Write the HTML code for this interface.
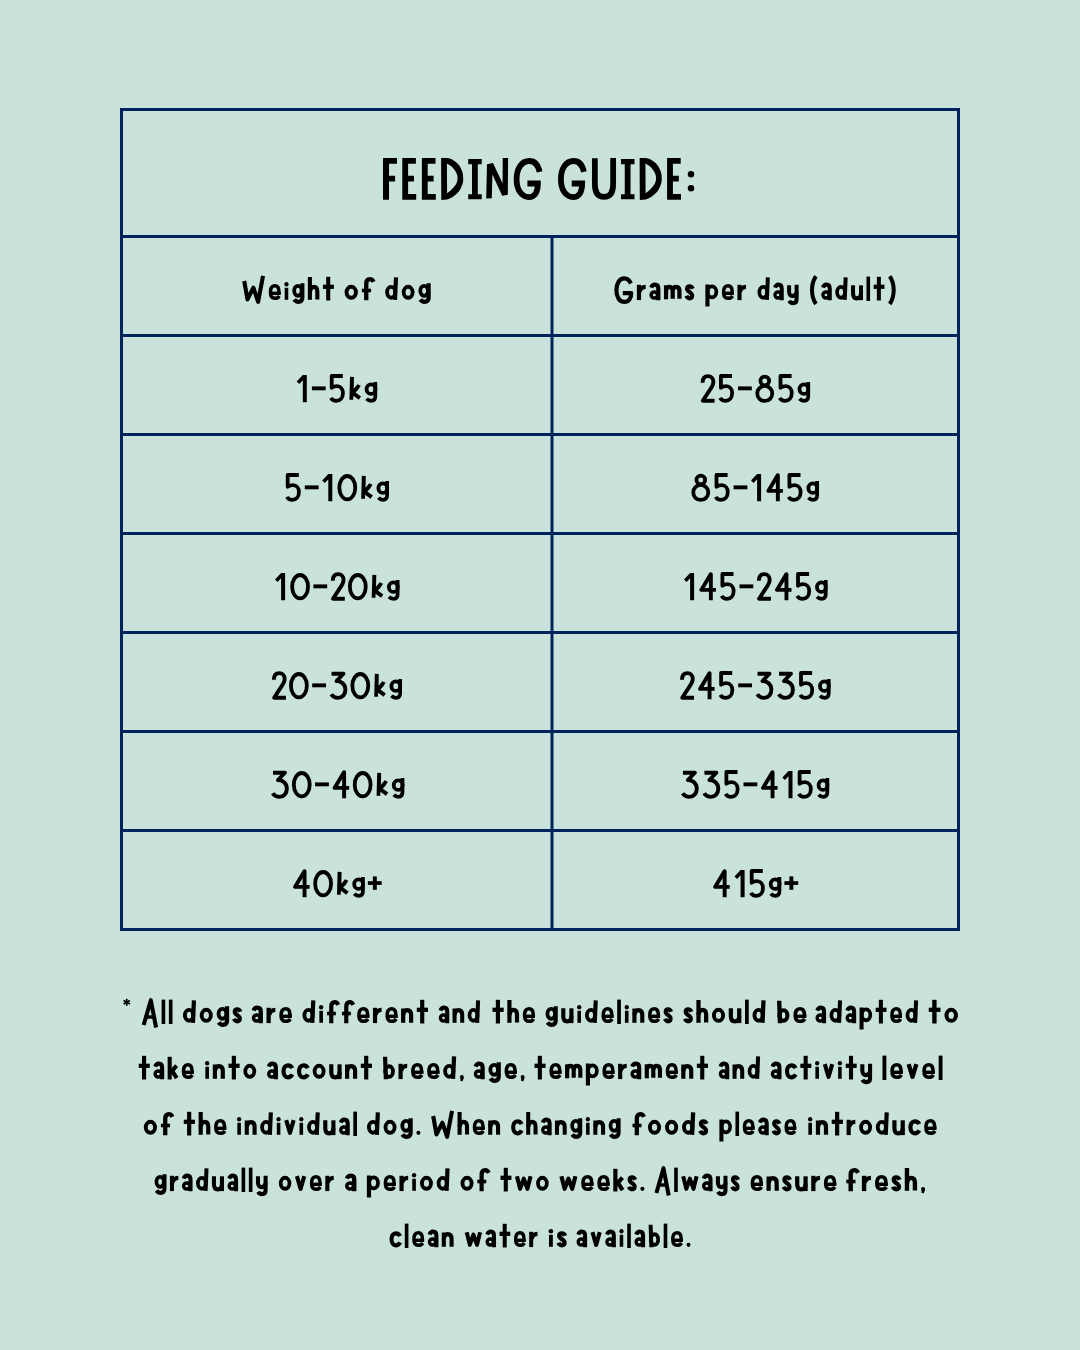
<!DOCTYPE html>
<html>
<head>
<meta charset="utf-8">
<title>Feeding Guide</title>
<style>
html,body{margin:0;padding:0;}
body{width:1080px;height:1350px;background:#cae2dc;overflow:hidden;font-family:"Liberation Sans",sans-serif;}
svg{display:block;position:absolute;left:0;top:0;}
.ln{fill:#00235b;}
text{font-family:"Liberation Sans",sans-serif;fill:#000;}
.sem,.sem *{position:absolute;margin:0;padding:0;border:0;color:transparent;background:none;font-family:"Liberation Sans",sans-serif;font-weight:700;font-size:26px;line-height:56px;white-space:nowrap;}
.sem{left:0;top:0;width:1080px;height:1350px;}
.sem p{white-space:normal;text-align:center;font-size:26px;}
.sem table,.sem tbody,.sem tr{left:0;top:0;display:block;}
.sem th,.sem td{display:block;line-height:32px;}
.sem h1{line-height:52px;}
.b{font-weight:700;}
</style>
</head>
<body>
<svg width="1080" height="1350" viewBox="0 0 1080 1350">
<defs>
<g id="g0"><ellipse cx="9.9" cy="-13.6" rx="7.95" ry="11.7" fill="none" stroke="#000" stroke-width="3.8"/></g>
<g id="g1"><path d="M6.1 -27.3 H10.1 V0 H6.1 V-22.1 L2.6 -18.3 L0 -20.9 Z" fill="#000"/></g>
<g id="gm"><rect x="0" y="-15.9" width="13.8" height="3.9" fill="#000"/></g>
<g id="g2"><path d="M1.95 -19.5 C1.95 -23.8 4.1 -26.15 7.4 -26.15 C10.7 -26.15 12.75 -23.7 12.75 -20.5 C12.75 -17.3 11.1 -14.8 9.1 -12.2 L2.2 -1.6 L14 -1.6" fill="none" stroke="#000" stroke-width="3.9" stroke-linejoin="round"/></g>
<g id="g3"><path d="M1.94 -25.55 L13.9 -25.55 L6.9 -18.3 C11.5 -18.6 15.8 -15 15.8 -9.6 C15.8 -4.8 12.5 -1.45 8.4 -1.45 C5.4 -1.45 3 -2.8 1.65 -5" fill="none" stroke="#000" stroke-width="3.9" stroke-linejoin="round"/></g>
<g id="g4"><path d="M11.65 0 L11.65 -26.2 L2.1 -10.4 L16.7 -10.4" fill="none" stroke="#000" stroke-width="3.9" stroke-linejoin="round"/></g>
<g id="g5"><path d="M13.5 -26.3 L2.4 -26.3 L2.4 -14.5 C4 -15.6 5.8 -16.2 7.6 -16.2 C11.3 -16.2 13.65 -13.2 13.65 -9.2 C13.65 -4.6 10.8 -1.45 7 -1.45 C4.5 -1.45 2.6 -2.6 1.6 -4.4" fill="none" stroke="#000" stroke-width="3.8" stroke-linejoin="round"/></g>
<g id="g8"><circle cx="9.4" cy="-21.3" r="4.35" fill="none" stroke="#000" stroke-width="3.75"/><circle cx="9.35" cy="-8.8" r="7.5" fill="none" stroke="#000" stroke-width="3.75"/></g>
<g id="gk"><path d="M0.64 -25.58 L4.57 -25.26 L4.36 -13.6 L8.03 -18.02 L11.34 -16.45 Q9.2 -12.2 6.15 -9.83 L11.66 -5.74 L9.29 -2.59 L3.88 -6.45 L3.78 -2.44 L0 -2.6 Z" fill="#000"/></g>
<g id="gg"><ellipse cx="6.3" cy="-13.14" rx="4.4" ry="4.75" fill="none" stroke="#000" stroke-width="3.8"/><path d="M10.63 -20.2 L10.63 -6 C10.63 -3 8.9 -1.5 6.5 -1.5 C4.6 -1.5 3 -2.3 1.9 -3.5" fill="none" stroke="#000" stroke-width="3.75" stroke-linecap="butt"/></g>
<g id="gp"><rect x="0" y="-16.1" width="13.8" height="3.7" fill="#000"/><rect x="5" y="-20.9" width="3.9" height="13.4" fill="#000"/></g>
<g id="tF" fill="#000"><path d="M383 158.1 H397 V163.8 H389 V175.7 H395.1 V181.5 H389 V199.75 H383 Z"/></g>
<g id="tE" fill="#000"><path d="M402.3 158.1 H415.9 V163.8 H408.1 V175.7 H414 V181.5 H408.1 V194 H416.2 V199.75 H402.3 Z"/></g>
<g id="tD" fill="#000"><path fill-rule="evenodd" d="M441.1 158.1 L447.2 158.1 C451 158.6 453 160 455.5 161.7 C458.5 164 460.3 166.5 461.3 169.2 C462.6 172 463.2 174.6 463.2 177.5 L463.2 180 C463.2 182.6 462.6 184 461.3 187.2 C460 190 458.5 192.5 455.5 194.8 C453 196.8 451 198.5 447.2 199.4 L441.3 200 Z M446.9 163.4 C450 165 451.6 166.3 453 167.9 C456 171 457.6 174.5 457.6 178 C457.6 182 456 185 453 188 C451.6 189.6 450 191.3 447.1 193.3 Z"/></g>
<g id="tI" fill="#000"><path d="M468.25 159 H481.75 V164.3 H477.8 V194.2 H481.75 V199.3 H468.25 V194.2 H472 V164.3 H468.25 Z"/></g>
<g id="tN" fill="#000"><path d="M487 164.3 L493 162.9 L502.6 183.6 L502.7 158.1 L508.1 158.1 L507.8 194.8 L502.2 195.8 L492.4 174.6 L491.8 198.2 L486.2 198.5 Z"/></g>
<g id="tG" fill="#000"><path fill="none" stroke="#000" stroke-width="5.8" stroke-linejoin="miter" d="M539.6 171.8 C538 164.8 534.3 161 529.4 161 C521.6 161 516.6 168.6 516.6 179.3 C516.6 190 521.6 197.1 528.9 197.1 C534.6 197.1 537.85 192.3 537.85 183.5 L527.4 183.5"/></g>
<g id="tU" fill="#000"><path fill="none" stroke="#000" stroke-width="5.75" d="M594.85 158.3 L594.85 184 C594.85 192.6 598 196.9 604 196.9 C610 196.9 613.15 192.6 613.15 184 L613.15 158.1"/></g>
<g id="tC" fill="#000"><circle cx="691" cy="174.3" r="3.25"/><circle cx="691" cy="188.3" r="3.25"/></g>
<g id="h28"><path d="M6.2 -23.5 C0.6 -16 0.6 -3.5 6.2 4.3" fill="none" stroke="#000" stroke-width="4.25" stroke-linejoin="round" stroke-linecap="butt"/></g>
<g id="h29"><path d="M1.8 -23.5 C7.4 -16 7.4 -3.5 1.8 4.3" fill="none" stroke="#000" stroke-width="4.25" stroke-linejoin="round" stroke-linecap="butt"/></g>
<g id="h2a"><path d="M3.75 -24 V-17" fill="none" stroke="#000" stroke-width="1.7" stroke-linejoin="round" stroke-linecap="butt"/><path d="M0.6 -22.3 L6.9 -18.7" fill="none" stroke="#000" stroke-width="1.7" stroke-linejoin="round" stroke-linecap="butt"/><path d="M6.9 -22.3 L0.6 -18.7" fill="none" stroke="#000" stroke-width="1.7" stroke-linejoin="round" stroke-linecap="butt"/></g>
<g id="h2c"><circle cx="2.1" cy="-1.9" r="2" fill="#000"/><path d="M2.8 -1.5 L1.5 2.2" fill="none" stroke="#000" stroke-width="2.6" stroke-linejoin="round" stroke-linecap="butt"/></g>
<g id="h2e"><circle cx="2.1" cy="-2" r="2.1" fill="#000"/></g>
<g id="h41"><path d="M2 2.2 L9.5 -22.5 L15 4.7" fill="none" stroke="#000" stroke-width="4.25" stroke-linejoin="round" stroke-linecap="butt"/><path d="M5.5 -5.8 H13.3" fill="none" stroke="#000" stroke-width="3.4" stroke-linejoin="round" stroke-linecap="butt"/></g>
<g id="h47"><path d="M16.6 -16.3 C15 -19.8 12.8 -21.3 10 -21.3 C5 -21.3 2 -16 2 -9.5 C2 -3 5 2.2 10 2.2 C14.5 2.2 17 -1.5 17 -6.6 H8.5" fill="none" stroke="#000" stroke-width="4.25" stroke-linejoin="round" stroke-linecap="butt"/></g>
<g id="h57"><path d="M2 -18.8 L5.4 -0.5 L11.5 -12 L16.4 2 L21.5 -24" fill="none" stroke="#000" stroke-width="4.25" stroke-linejoin="round" stroke-linecap="butt"/></g>
<g id="h61"><path d="M1.9 -12.2 C2.5 -14.3 4 -15.2 5.6 -15.2 C7.9 -15.2 9 -13.5 9 -11 V0.5" fill="none" stroke="#000" stroke-width="4.25" stroke-linejoin="round" stroke-linecap="butt"/><ellipse cx="5" cy="-4.8" rx="3.25" ry="3.05" fill="none" stroke="#000" stroke-width="3.5"/></g>
<g id="h62"><ellipse cx="6.2" cy="-7.3" rx="3.85" ry="5.3" fill="none" stroke="#000" stroke-width="3.9"/><path d="M2.1 -22 L2.9 0.5" fill="none" stroke="#000" stroke-width="4.2" stroke-linejoin="round" stroke-linecap="butt"/></g>
<g id="h63"><path d="M10.9 -10.6 C10 -12.6 8.5 -13.5 6.5 -13.5 C3.6 -13.5 2 -11 2 -7.5 C2 -4 3.6 -1.5 6.5 -1.5 C8.5 -1.5 10 -2.4 10.9 -4.4" fill="none" stroke="#000" stroke-width="4.25" stroke-linejoin="round" stroke-linecap="butt"/></g>
<g id="h64"><ellipse cx="6.1" cy="-7.5" rx="4.15" ry="5.4" fill="none" stroke="#000" stroke-width="3.9"/><path d="M11 -22.5 L10 0" fill="none" stroke="#000" stroke-width="4.25" stroke-linejoin="round" stroke-linecap="butt"/></g>
<g id="h65"><path d="M10.7 -5.4 V-8.2 C10.7 -12.3 9.3 -14 6.3 -14 C3.1 -14 1.9 -11.6 1.9 -7.5 C1.9 -3.6 3.4 -1.5 6.4 -1.5 C8.5 -1.5 10 -2.3 11.1 -3.9" fill="none" stroke="#000" stroke-width="3.6" stroke-linejoin="round" stroke-linecap="butt"/><path d="M1.9 -6.5 H12.5" fill="none" stroke="#000" stroke-width="3.4" stroke-linejoin="round" stroke-linecap="butt"/></g>
<g id="h66"><path d="M4.3 0.5 V-16 C4.3 -19.5 6 -20.6 8 -20.6 C9.5 -20.6 10.6 -19.8 11.4 -18" fill="none" stroke="#000" stroke-width="4.25" stroke-linejoin="round" stroke-linecap="butt"/><path d="M0 -9.3 H9" fill="none" stroke="#000" stroke-width="3.6" stroke-linejoin="round" stroke-linecap="butt"/></g>
<g id="h67"><ellipse cx="5.9" cy="-9" rx="3.9" ry="4.9" fill="none" stroke="#000" stroke-width="3.9"/><path d="M10.5 -16.5 V-2 C10.5 1 8.5 2 6.3 2 C4.5 2 3 1.2 2 -0.2" fill="none" stroke="#000" stroke-width="4.25" stroke-linejoin="round" stroke-linecap="butt"/></g>
<g id="h68"><path d="M2 -22.8 V0" fill="none" stroke="#000" stroke-width="4.25" stroke-linejoin="round" stroke-linecap="butt"/><path d="M2 -8 C2.6 -11.5 4.2 -13 6 -13 C8.4 -13 9.7 -11.2 9.7 -8.5 V-0.3" fill="none" stroke="#000" stroke-width="4.25" stroke-linejoin="round" stroke-linecap="butt"/></g>
<g id="h69"><path d="M2.2 -12 V0" fill="none" stroke="#000" stroke-width="3.7" stroke-linejoin="round" stroke-linecap="butt"/><circle cx="2.2" cy="-15.6" r="2.2" fill="#000"/></g>
<g id="h6b"><path d="M2 -22 V0.7" fill="none" stroke="#000" stroke-width="4.25" stroke-linejoin="round" stroke-linecap="butt"/><path d="M3 -6.3 L9.1 -13.2" fill="none" stroke="#000" stroke-width="4.25" stroke-linejoin="round" stroke-linecap="butt"/><path d="M4.4 -8 L9.3 -0.7" fill="none" stroke="#000" stroke-width="4.25" stroke-linejoin="round" stroke-linecap="butt"/></g>
<g id="h6c"><path d="M1.9 -23.2 V1.2" fill="none" stroke="#000" stroke-width="3.8" stroke-linejoin="round" stroke-linecap="butt"/></g>
<g id="h6d"><path d="M2 -14.5 V-0.5" fill="none" stroke="#000" stroke-width="4.25" stroke-linejoin="round" stroke-linecap="butt"/><path d="M2 -9 C2.4 -11.7 3.6 -13 5.3 -13 C7.5 -13 8.7 -11.5 8.7 -9 V-1" fill="none" stroke="#000" stroke-width="4.25" stroke-linejoin="round" stroke-linecap="butt"/><path d="M8.7 -9 C9.1 -11.7 10.4 -13 12.1 -13 C14.4 -13 15.5 -11.5 15.5 -9 V-1" fill="none" stroke="#000" stroke-width="4.25" stroke-linejoin="round" stroke-linecap="butt"/></g>
<g id="h6e"><path d="M1.9 -14.3 V0" fill="none" stroke="#000" stroke-width="4.25" stroke-linejoin="round" stroke-linecap="butt"/><path d="M1.9 -8 C2.5 -11.5 4.2 -12.7 6 -12.7 C8.6 -12.7 10 -10.8 10 -8 V0" fill="none" stroke="#000" stroke-width="4.25" stroke-linejoin="round" stroke-linecap="butt"/></g>
<g id="h6f"><ellipse cx="6.6" cy="-7.5" rx="4.6" ry="5.5" fill="none" stroke="#000" stroke-width="3.9"/></g>
<g id="h70"><ellipse cx="6.7" cy="-8" rx="4.5" ry="5.5" fill="none" stroke="#000" stroke-width="3.8"/><path d="M2 -15.3 V6.7" fill="none" stroke="#000" stroke-width="4.25" stroke-linejoin="round" stroke-linecap="butt"/></g>
<g id="h72"><path d="M2 -15 V0.3" fill="none" stroke="#000" stroke-width="4.25" stroke-linejoin="round" stroke-linecap="butt"/><path d="M2.6 -8 C3.4 -11.6 5.4 -12.9 8.7 -12.9" fill="none" stroke="#000" stroke-width="4.25" stroke-linejoin="round" stroke-linecap="butt"/></g>
<g id="h73"><path d="M7.6 -11 C6.9 -12.8 5.8 -13.5 4.5 -13.5 C2.9 -13.5 2 -12.4 2 -11 C2 -9.4 3.2 -8.5 4.6 -7.6 C6 -6.7 7 -5.8 7 -4.2 C7 -2.6 6 -1.5 4.4 -1.5 C3 -1.5 2 -2.3 1.3 -4" fill="none" stroke="#000" stroke-width="4.25" stroke-linejoin="round" stroke-linecap="butt"/></g>
<g id="h74"><path d="M5.5 -23 V0.7" fill="none" stroke="#000" stroke-width="4.25" stroke-linejoin="round" stroke-linecap="butt"/><path d="M0 -13 H11.4" fill="none" stroke="#000" stroke-width="4.25" stroke-linejoin="round" stroke-linecap="butt"/></g>
<g id="h75"><path d="M2 -14.5 V-6.5 C2 -3.3 3.5 -1.5 6 -1.5 C8.7 -1.5 10.4 -3.3 10.4 -6.5" fill="none" stroke="#000" stroke-width="4.25" stroke-linejoin="round" stroke-linecap="butt"/><path d="M10.4 -14.5 V0.3" fill="none" stroke="#000" stroke-width="4.25" stroke-linejoin="round" stroke-linecap="butt"/></g>
<g id="h76"><path d="M1.9 -14.6 L5.75 -2 L9.6 -14.6" fill="none" stroke="#000" stroke-width="4.25" stroke-linejoin="round" stroke-linecap="butt"/></g>
<g id="h77"><path d="M1.9 -14.6 L5.2 -2 L9 -12 L12.8 -2 L16.1 -14.6" fill="none" stroke="#000" stroke-width="4.25" stroke-linejoin="round" stroke-linecap="butt"/></g>
<g id="h79"><path d="M2 -14.5 V-8 C2 -5 3.6 -3.8 5.8 -3.8 C8 -3.8 10 -5 10 -8" fill="none" stroke="#000" stroke-width="4.25" stroke-linejoin="round" stroke-linecap="butt"/><path d="M10 -15 V-0.5 C10 2.5 8.3 3.3 6.2 3.3 C4.4 3.3 3 2.6 2.1 1" fill="none" stroke="#000" stroke-width="4.25" stroke-linejoin="round" stroke-linecap="butt"/></g>
</defs>
<!-- table grid -->
<rect class="ln" x="120" y="108" width="840" height="3"/>
<rect class="ln" x="120" y="928" width="840" height="3"/>
<rect class="ln" x="120" y="235" width="840" height="3"/>
<rect class="ln" x="120" y="334" width="840" height="3"/>
<rect class="ln" x="120" y="433" width="840" height="3"/>
<rect class="ln" x="120" y="532" width="840" height="3"/>
<rect class="ln" x="120" y="631" width="840" height="3"/>
<rect class="ln" x="120" y="730" width="840" height="3"/>
<rect class="ln" x="120" y="829" width="840" height="3"/>
<rect class="ln" x="120" y="108" width="3" height="823"/>
<rect class="ln" x="957" y="108" width="3" height="823"/>
<rect class="ln" x="550.5" y="235" width="3" height="696"/>
<!-- title -->
<use href="#tF" x="0.00" y="0"/>
<use href="#tE" x="0.00" y="0"/>
<use href="#tE" x="19.60" y="0"/>
<use href="#tD" x="0.00" y="0"/>
<use href="#tI" x="0.00" y="0"/>
<use href="#tN" x="0.00" y="0"/>
<use href="#tG" x="0.00" y="0"/>
<use href="#tG" x="44.30" y="0"/>
<use href="#tU" x="0.00" y="0"/>
<use href="#tI" x="152.75" y="0"/>
<use href="#tD" x="198.50" y="0"/>
<use href="#tE" x="264.80" y="0"/>
<use href="#tC" x="0.00" y="0"/>
<!-- header row -->
<g transform="translate(242.30 299.80) scale(0.9642 1)"><use href="#h57" x="0.00"/><use href="#h65" x="27.30"/><use href="#h69" x="43.60"/><use href="#h67" x="51.80"/><use href="#h68" x="68.10"/><use href="#h74" x="83.60"/></g>
<g transform="translate(344.50 299.80) scale(1.0211 1)"><use href="#h6f" x="0.00"/><use href="#h66" x="17.00"/></g>
<g transform="translate(385.20 299.80) scale(0.9806 1)"><use href="#h64" x="0.00"/><use href="#h6f" x="16.80"/><use href="#h67" x="33.80"/></g>
<g transform="translate(614.40 299.80) scale(0.9913 1)"><use href="#h47" x="0.00"/><use href="#h72" x="22.80"/><use href="#h61" x="35.30"/><use href="#h6d" x="50.10"/><use href="#h73" x="71.40"/></g>
<g transform="translate(705.50 299.80) scale(0.9689 1)"><use href="#h70" x="0.00"/><use href="#h65" x="16.80"/><use href="#h72" x="33.10"/></g>
<g transform="translate(757.50 299.80) scale(0.9404 1)"><use href="#h64" x="0.00"/><use href="#h61" x="16.80"/><use href="#h79" x="31.60"/></g>
<g transform="translate(810.10 299.80) scale(0.9458 1)"><use href="#h28" x="0.00"/><use href="#h61" x="11.80"/><use href="#h64" x="26.60"/><use href="#h75" x="43.40"/><use href="#h6c" x="59.60"/><use href="#h74" x="67.20"/><use href="#h29" x="82.40"/></g>
<!-- cells -->
<use href="#g1" x="296.70" y="402.30"/>
<use href="#gm" x="311.90" y="402.30"/>
<use href="#g5" x="329.30" y="402.30"/>
<use href="#gk" x="349.40" y="402.30"/>
<use href="#gg" x="364.70" y="402.30"/>
<use href="#g5" x="285.30" y="501.30"/>
<use href="#gm" x="304.80" y="501.30"/>
<use href="#g1" x="322.20" y="501.30"/>
<use href="#g0" x="337.40" y="501.30"/>
<use href="#gk" x="361.20" y="501.30"/>
<use href="#gg" x="376.50" y="501.30"/>
<use href="#g1" x="275.00" y="600.30"/>
<use href="#g0" x="290.20" y="600.30"/>
<use href="#gm" x="313.40" y="600.30"/>
<use href="#g2" x="330.80" y="600.30"/>
<use href="#g0" x="347.90" y="600.30"/>
<use href="#gk" x="371.70" y="600.30"/>
<use href="#gg" x="387.00" y="600.30"/>
<use href="#g2" x="271.90" y="699.30"/>
<use href="#g0" x="289.00" y="699.30"/>
<use href="#gm" x="312.20" y="699.30"/>
<use href="#g3" x="329.60" y="699.30"/>
<use href="#g0" x="350.40" y="699.30"/>
<use href="#gk" x="374.20" y="699.30"/>
<use href="#gg" x="389.50" y="699.30"/>
<use href="#g3" x="271.06" y="798.30"/>
<use href="#g0" x="291.86" y="798.30"/>
<use href="#gm" x="315.06" y="798.30"/>
<use href="#g4" x="332.46" y="798.30"/>
<use href="#g0" x="352.76" y="798.30"/>
<use href="#gk" x="376.56" y="798.30"/>
<use href="#gg" x="391.86" y="798.30"/>
<use href="#g4" x="292.90" y="897.30"/>
<use href="#g0" x="313.20" y="897.30"/>
<use href="#gk" x="337.00" y="897.30"/>
<use href="#gg" x="352.30" y="897.30"/>
<use href="#gp" x="367.90" y="897.30"/>
<use href="#g2" x="700.60" y="402.30"/>
<use href="#g5" x="718.50" y="402.30"/>
<use href="#gm" x="738.00" y="402.30"/>
<use href="#g8" x="755.40" y="402.30"/>
<use href="#g5" x="778.10" y="402.30"/>
<use href="#gg" x="797.60" y="402.30"/>
<use href="#g8" x="691.40" y="501.30"/>
<use href="#g5" x="714.10" y="501.30"/>
<use href="#gm" x="733.60" y="501.30"/>
<use href="#g1" x="751.00" y="501.30"/>
<use href="#g4" x="766.20" y="501.30"/>
<use href="#g5" x="787.00" y="501.30"/>
<use href="#gg" x="806.50" y="501.30"/>
<use href="#g1" x="684.00" y="600.30"/>
<use href="#g4" x="699.20" y="600.30"/>
<use href="#g5" x="720.00" y="600.30"/>
<use href="#gm" x="739.50" y="600.30"/>
<use href="#g2" x="756.90" y="600.30"/>
<use href="#g4" x="774.80" y="600.30"/>
<use href="#g5" x="795.60" y="600.30"/>
<use href="#gg" x="815.10" y="600.30"/>
<use href="#g2" x="680.00" y="699.30"/>
<use href="#g4" x="697.90" y="699.30"/>
<use href="#g5" x="718.70" y="699.30"/>
<use href="#gm" x="738.20" y="699.30"/>
<use href="#g3" x="755.60" y="699.30"/>
<use href="#g3" x="777.10" y="699.30"/>
<use href="#g5" x="798.60" y="699.30"/>
<use href="#gg" x="818.10" y="699.30"/>
<use href="#g3" x="681.00" y="798.30"/>
<use href="#g3" x="702.50" y="798.30"/>
<use href="#g5" x="724.00" y="798.30"/>
<use href="#gm" x="743.50" y="798.30"/>
<use href="#g4" x="760.90" y="798.30"/>
<use href="#g1" x="782.40" y="798.30"/>
<use href="#g5" x="797.20" y="798.30"/>
<use href="#gg" x="816.70" y="798.30"/>
<use href="#g4" x="713.00" y="897.30"/>
<use href="#g1" x="734.50" y="897.30"/>
<use href="#g5" x="749.30" y="897.30"/>
<use href="#gg" x="768.80" y="897.30"/>
<use href="#gp" x="784.40" y="897.30"/>
<!-- footnote -->
<g transform="translate(123.00 1022.80) scale(1.0000 1)"><use href="#h2a" x="0.00"/></g>
<g transform="translate(141.75 1022.80) scale(0.9550 1)"><use href="#h41" x="0.00"/><use href="#h6c" x="20.80"/><use href="#h6c" x="28.40"/></g>
<g transform="translate(183.00 1022.80) scale(0.9941 1)"><use href="#h64" x="0.00"/><use href="#h6f" x="16.80"/><use href="#h67" x="33.80"/><use href="#h73" x="50.10"/></g>
<g transform="translate(251.75 1022.80) scale(1.0050 1)"><use href="#h61" x="0.00"/><use href="#h72" x="14.80"/><use href="#h65" x="27.30"/></g>
<g transform="translate(302.50 1022.80) scale(0.9812 1)"><use href="#h64" x="0.00"/><use href="#h69" x="16.80"/><use href="#h66" x="25.00"/><use href="#h66" x="40.30"/><use href="#h65" x="55.60"/><use href="#h72" x="71.90"/><use href="#h65" x="84.40"/><use href="#h6e" x="100.70"/><use href="#h74" x="116.50"/></g>
<g transform="translate(438.75 1022.80) scale(0.9461 1)"><use href="#h61" x="0.00"/><use href="#h6e" x="14.80"/><use href="#h64" x="30.60"/></g>
<g transform="translate(492.50 1022.80) scale(0.9838 1)"><use href="#h74" x="0.00"/><use href="#h68" x="15.20"/><use href="#h65" x="30.70"/></g>
<g transform="translate(545.50 1022.80) scale(0.9717 1)"><use href="#h67" x="0.00"/><use href="#h75" x="16.30"/><use href="#h69" x="32.50"/><use href="#h64" x="40.70"/><use href="#h65" x="57.50"/><use href="#h6c" x="73.80"/><use href="#h69" x="81.40"/><use href="#h6e" x="89.60"/><use href="#h65" x="105.40"/><use href="#h73" x="121.70"/></g>
<g transform="translate(683.75 1022.80) scale(0.9957 1)"><use href="#h73" x="0.00"/><use href="#h68" x="12.80"/><use href="#h6f" x="28.30"/><use href="#h75" x="45.30"/><use href="#h6c" x="61.50"/><use href="#h64" x="69.10"/></g>
<g transform="translate(777.00 1022.80) scale(1.0336 1)"><use href="#h62" x="0.00"/><use href="#h65" x="15.80"/></g>
<g transform="translate(815.50 1022.80) scale(0.9517 1)"><use href="#h61" x="0.00"/><use href="#h64" x="14.80"/><use href="#h61" x="31.60"/><use href="#h70" x="46.40"/><use href="#h74" x="63.20"/><use href="#h65" x="78.40"/><use href="#h64" x="94.70"/></g>
<g transform="translate(928.75 1022.80) scale(1.0299 1)"><use href="#h74" x="0.00"/><use href="#h6f" x="15.20"/></g>
<g transform="translate(138.75 1078.80) scale(0.9666 1)"><use href="#h74" x="0.00"/><use href="#h61" x="15.20"/><use href="#h6b" x="30.00"/><use href="#h65" x="44.40"/></g>
<g transform="translate(205.00 1078.80) scale(0.9781 1)"><use href="#h69" x="0.00"/><use href="#h6e" x="8.20"/><use href="#h74" x="24.00"/><use href="#h6f" x="39.20"/></g>
<g transform="translate(267.00 1078.80) scale(0.9831 1)"><use href="#h61" x="0.00"/><use href="#h63" x="14.80"/><use href="#h63" x="30.60"/><use href="#h6f" x="46.40"/><use href="#h75" x="63.40"/><use href="#h6e" x="79.60"/><use href="#h74" x="95.40"/></g>
<g transform="translate(383.00 1078.80) scale(0.9884 1)"><use href="#h62" x="0.00"/><use href="#h72" x="15.80"/><use href="#h65" x="28.30"/><use href="#h65" x="44.60"/><use href="#h64" x="60.90"/><use href="#h2c" x="77.70"/></g>
<g transform="translate(473.75 1078.80) scale(0.9874 1)"><use href="#h61" x="0.00"/><use href="#h67" x="14.80"/><use href="#h65" x="31.10"/><use href="#h2c" x="47.40"/></g>
<g transform="translate(534.50 1078.80) scale(0.9747 1)"><use href="#h74" x="0.00"/><use href="#h65" x="15.20"/><use href="#h6d" x="31.50"/><use href="#h70" x="52.80"/><use href="#h65" x="69.60"/><use href="#h72" x="85.90"/><use href="#h61" x="98.40"/><use href="#h6d" x="113.20"/><use href="#h65" x="134.50"/><use href="#h6e" x="150.80"/><use href="#h74" x="166.60"/></g>
<g transform="translate(718.75 1078.80) scale(0.9461 1)"><use href="#h61" x="0.00"/><use href="#h6e" x="14.80"/><use href="#h64" x="30.60"/></g>
<g transform="translate(770.75 1078.80) scale(0.9670 1)"><use href="#h61" x="0.00"/><use href="#h63" x="14.80"/><use href="#h74" x="30.60"/><use href="#h69" x="45.80"/><use href="#h76" x="54.00"/><use href="#h69" x="69.30"/><use href="#h74" x="77.50"/><use href="#h79" x="92.70"/></g>
<g transform="translate(882.50 1078.80) scale(1.0118 1)"><use href="#h6c" x="0.00"/><use href="#h65" x="7.60"/><use href="#h76" x="23.90"/><use href="#h65" x="39.20"/><use href="#h6c" x="55.50"/></g>
<g transform="translate(143.75 1134.80) scale(1.0088 1)"><use href="#h6f" x="0.00"/><use href="#h66" x="17.00"/></g>
<g transform="translate(183.75 1134.80) scale(0.9838 1)"><use href="#h74" x="0.00"/><use href="#h68" x="15.20"/><use href="#h65" x="30.70"/></g>
<g transform="translate(237.00 1134.80) scale(0.9670 1)"><use href="#h69" x="0.00"/><use href="#h6e" x="8.20"/><use href="#h64" x="24.00"/><use href="#h69" x="40.80"/><use href="#h76" x="49.00"/><use href="#h69" x="64.30"/><use href="#h64" x="72.50"/><use href="#h75" x="89.30"/><use href="#h61" x="105.50"/><use href="#h6c" x="120.30"/></g>
<g transform="translate(367.00 1134.80) scale(0.9853 1)"><use href="#h64" x="0.00"/><use href="#h6f" x="16.80"/><use href="#h67" x="33.80"/><use href="#h2e" x="50.10"/></g>
<g transform="translate(431.25 1134.80) scale(0.9669 1)"><use href="#h57" x="0.00"/><use href="#h68" x="27.30"/><use href="#h65" x="42.80"/><use href="#h6e" x="59.10"/></g>
<g transform="translate(511.25 1134.80) scale(0.9525 1)"><use href="#h63" x="0.00"/><use href="#h68" x="15.80"/><use href="#h61" x="31.30"/><use href="#h6e" x="46.10"/><use href="#h67" x="61.90"/><use href="#h69" x="78.20"/><use href="#h6e" x="86.40"/><use href="#h67" x="102.20"/></g>
<g transform="translate(632.50 1134.80) scale(1.0053 1)"><use href="#h66" x="0.00"/><use href="#h6f" x="15.30"/><use href="#h6f" x="32.30"/><use href="#h64" x="49.30"/><use href="#h73" x="66.10"/></g>
<g transform="translate(719.50 1134.80) scale(0.9499 1)"><use href="#h70" x="0.00"/><use href="#h6c" x="16.80"/><use href="#h65" x="24.40"/><use href="#h61" x="40.70"/><use href="#h73" x="55.50"/><use href="#h65" x="68.30"/></g>
<g transform="translate(808.00 1134.80) scale(0.9877 1)"><use href="#h69" x="0.00"/><use href="#h6e" x="8.20"/><use href="#h74" x="24.00"/><use href="#h72" x="39.20"/><use href="#h6f" x="51.70"/><use href="#h64" x="68.70"/><use href="#h75" x="85.50"/><use href="#h63" x="101.70"/><use href="#h65" x="117.50"/></g>
<g transform="translate(154.50 1190.80) scale(0.9528 1)"><use href="#h67" x="0.00"/><use href="#h72" x="16.30"/><use href="#h61" x="28.80"/><use href="#h64" x="43.60"/><use href="#h75" x="60.40"/><use href="#h61" x="76.60"/><use href="#h6c" x="91.40"/><use href="#h6c" x="99.00"/><use href="#h79" x="106.60"/></g>
<g transform="translate(278.75 1190.80) scale(0.9599 1)"><use href="#h6f" x="0.00"/><use href="#h76" x="17.00"/><use href="#h65" x="32.30"/><use href="#h72" x="48.60"/></g>
<g transform="translate(345.00 1190.80) scale(1.0273 1)"><use href="#h61" x="0.00"/></g>
<g transform="translate(367.00 1190.80) scale(0.9845 1)"><use href="#h70" x="0.00"/><use href="#h65" x="16.80"/><use href="#h72" x="33.10"/><use href="#h69" x="45.60"/><use href="#h6f" x="53.80"/><use href="#h64" x="70.80"/></g>
<g transform="translate(460.50 1190.80) scale(0.9912 1)"><use href="#h6f" x="0.00"/><use href="#h66" x="17.00"/></g>
<g transform="translate(500.50 1190.80) scale(0.9612 1)"><use href="#h74" x="0.00"/><use href="#h77" x="15.20"/><use href="#h6f" x="37.00"/></g>
<g transform="translate(559.50 1190.80) scale(0.9907 1)"><use href="#h77" x="0.00"/><use href="#h65" x="21.80"/><use href="#h65" x="38.10"/><use href="#h6b" x="54.40"/><use href="#h73" x="68.80"/><use href="#h2e" x="81.60"/></g>
<g transform="translate(654.50 1190.80) scale(0.9465 1)"><use href="#h41" x="0.00"/><use href="#h6c" x="20.80"/><use href="#h77" x="28.40"/><use href="#h61" x="50.20"/><use href="#h79" x="65.00"/><use href="#h73" x="80.80"/></g>
<g transform="translate(750.50 1190.80) scale(0.9959 1)"><use href="#h65" x="0.00"/><use href="#h6e" x="16.30"/><use href="#h73" x="32.10"/><use href="#h75" x="44.90"/><use href="#h72" x="61.10"/><use href="#h65" x="73.60"/></g>
<g transform="translate(846.25 1190.80) scale(1.0308 1)"><use href="#h66" x="0.00"/><use href="#h72" x="15.30"/><use href="#h65" x="27.80"/><use href="#h73" x="44.10"/><use href="#h68" x="56.90"/><use href="#h2c" x="72.40"/></g>
<g transform="translate(389.60 1246.80) scale(0.9609 1)"><use href="#h63" x="0.00"/><use href="#h6c" x="15.80"/><use href="#h65" x="23.40"/><use href="#h61" x="39.70"/><use href="#h6e" x="54.50"/></g>
<g transform="translate(464.90 1246.80) scale(0.9453 1)"><use href="#h77" x="0.00"/><use href="#h61" x="21.80"/><use href="#h74" x="36.60"/><use href="#h65" x="51.80"/><use href="#h72" x="68.10"/></g>
<g transform="translate(548.60 1246.80) scale(1.0465 1)"><use href="#h69" x="0.00"/><use href="#h73" x="8.20"/></g>
<g transform="translate(576.50 1246.80) scale(0.9548 1)"><use href="#h61" x="0.00"/><use href="#h76" x="14.80"/><use href="#h61" x="30.10"/><use href="#h69" x="44.90"/><use href="#h6c" x="53.10"/><use href="#h61" x="60.70"/><use href="#h62" x="75.50"/><use href="#h6c" x="91.30"/><use href="#h65" x="98.90"/><use href="#h2e" x="115.20"/></g>
</svg>
<div class="sem" aria-hidden="false">
<h1 style="left:382px;top:150px;font-size:44px;">FEEDING GUIDE:</h1>
<table>
<tr><th style="left:242px;top:276px;">Weight of dog</th><th style="left:614px;top:276px;">Grams per day (adult)</th></tr>
<tr><td style="left:297px;top:374px;">1-5kg</td><td style="left:701px;top:374px;">25-85g</td></tr>
<tr><td style="left:285px;top:473px;">5-10kg</td><td style="left:691px;top:473px;">85-145g</td></tr>
<tr><td style="left:275px;top:572px;">10-20kg</td><td style="left:684px;top:572px;">145-245g</td></tr>
<tr><td style="left:272px;top:671px;">20-30kg</td><td style="left:680px;top:671px;">245-335g</td></tr>
<tr><td style="left:271px;top:770px;">30-40kg</td><td style="left:681px;top:770px;">335-415g</td></tr>
<tr><td style="left:293px;top:869px;">40kg+</td><td style="left:713px;top:869px;">415g+</td></tr>
</table>
<p style="left:120px;top:994px;width:840px;">* All dogs are different and the guidelines should be adapted to take into account breed, age, temperament and activity level of the individual dog. When changing foods please introduce gradually over a period of two weeks. Always ensure fresh, clean water is available.</p>
</div>
</body>
</html>
